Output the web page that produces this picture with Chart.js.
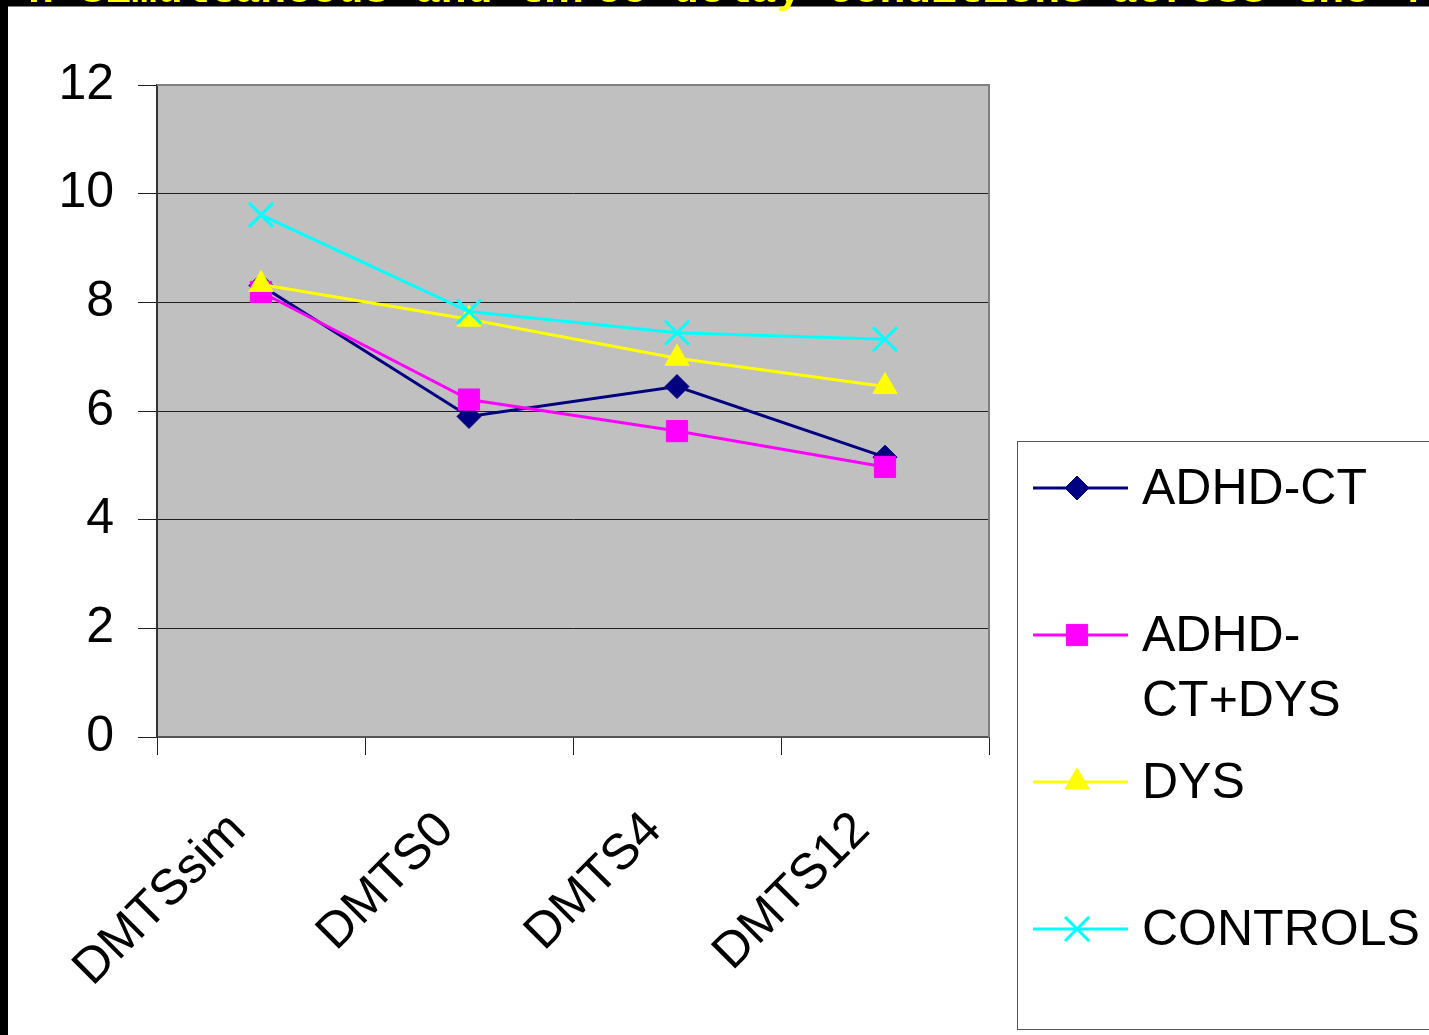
<!DOCTYPE html>
<html>
<head>
<meta charset="utf-8">
<script src="https://cdn.jsdelivr.net/npm/chart.js@4.4.1/dist/chart.umd.min.js"></script>
<style>
  html, body { margin: 0; padding: 0; background: #000; width: 1429px; height: 1035px; overflow: hidden; }
  #sheet { position: absolute; left: 8px; top: 6px; width: 1421px; height: 1029px; background: #fff; border-top: 1px solid #808080; box-sizing: border-box; }
  #heading { position: absolute; left: 28px; top: -31px; margin: 0; white-space: nowrap;
             font: bold 43px "Liberation Mono", "DejaVu Sans Mono", monospace; color: #ffff00; line-height: 43px; z-index: 2; }
  #chart { position: absolute; left: 8px; top: 7px; }
</style>
</head>
<body>
<div id="sheet"></div>
<p id="heading">n simultaneous and three delay conditions across the 4</p>
<canvas id="chart" width="1421" height="1028"></canvas>
<script>
// Delay conditions on the x axis
const conditions = ['DMTSsim', 'DMTS0', 'DMTS4', 'DMTS12'];

// Group names
const groupNames = ['ADHD-CT', 'ADHD-CT+DYS', 'DYS', 'CONTROLS'];

// Mean scores per group, one value per condition
const adhdCt     = [8.31, 5.90, 6.45, 5.15];
const adhdCtDys  = [8.19, 6.21, 5.63, 4.97];
const dys        = [8.33, 7.69, 6.97, 6.45];
const controls   = [9.61, 7.83, 7.44, 7.32];

// Y axis range and ticks
const yMin = 0, yMax = 12, yStep = 2;

const seriesValues = [adhdCt, adhdCtDys, dys, controls];
const seriesColors = ['#000080', '#ff00ff', '#ffff00', '#00ffff'];
const seriesMarkers = ['rectRot', 'rect', 'triangle', 'crossRot'];
const markerRadius = [12, 15, 14, 17];

const datasets = groupNames.map((name, i) => ({
  label: name,
  data: seriesValues[i],
  borderColor: seriesColors[i],
  backgroundColor: seriesColors[i],
  borderWidth: 3,
  tension: 0,
  fill: false,
  pointStyle: seriesMarkers[i],
  pointRadius: markerRadius[i],
  pointHoverRadius: markerRadius[i],
  pointBorderWidth: seriesMarkers[i] === 'crossRot' ? 3 : 1,
  pointBorderColor: seriesColors[i],
  pointBackgroundColor: seriesColors[i],
  order: groupNames.length - i
}));

// Grey plot background with darker frame on top and right
const plotBackground = {
  id: 'plotBackground',
  beforeDraw(chart) {
    const { ctx, chartArea: a } = chart;
    ctx.save();
    ctx.fillStyle = '#c0c0c0';
    ctx.fillRect(a.left, a.top, a.right - a.left, a.bottom - a.top);
    ctx.restore();
  },
  beforeDatasetsDraw(chart) {
    const { ctx, chartArea: a } = chart;
    ctx.save();
    ctx.strokeStyle = '#808080';
    ctx.lineWidth = 2;
    ctx.beginPath();
    ctx.moveTo(a.left, a.top);
    ctx.lineTo(a.right, a.top);
    ctx.lineTo(a.right, a.bottom);
    ctx.stroke();
    ctx.restore();
  }
};

// Boxed legend at the right, one entry per dataset, long names wrapped at the hyphen
const boxedLegend = {
  id: 'boxedLegend',
  afterDraw(chart) {
    const { ctx } = chart;
    const box = { left: 1009.5, top: 434.5, right: 1430, bottom: 1022.5 };
    const lineX0 = 1025, lineX1 = 1120, markX = 1069, textX = 1134;
    const maxTextW = 1421 - textX;
    const firstY = 481, stepY = 147, lineH = 65;
    ctx.save();
    ctx.strokeStyle = '#555';
    ctx.lineWidth = 1;
    ctx.strokeRect(box.left, box.top, box.right - box.left, box.bottom - box.top);
    ctx.font = '50px "Liberation Sans", Arial, sans-serif';
    ctx.textBaseline = 'middle';
    ctx.fillStyle = '#000';
    chart.data.datasets.forEach((ds, i) => {
      const y = firstY + i * stepY;
      ctx.strokeStyle = ds.borderColor;
      ctx.lineWidth = 3;
      ctx.beginPath();
      ctx.moveTo(lineX0, y);
      ctx.lineTo(lineX1, y);
      ctx.stroke();
      const style = { pointStyle: ds.pointStyle, rotation: 0, borderWidth: ds.pointBorderWidth };
      ctx.fillStyle = ds.backgroundColor;
      ctx.strokeStyle = ds.borderColor;
      ctx.lineWidth = ds.pointBorderWidth;
      Chart.helpers.drawPoint(ctx, { ...style, radius: ds.pointRadius }, markX, y);
      // text, wrapped after a hyphen if it does not fit
      ctx.fillStyle = '#000';
      let lines = [ds.label];
      if (ctx.measureText(ds.label).width > maxTextW && ds.label.includes('-')) {
        const k = ds.label.indexOf('-') + 1;
        lines = [ds.label.slice(0, k), ds.label.slice(k)];
      }
      lines.forEach((t, j) => ctx.fillText(t, textX, y + j * lineH + 2));
    });
    ctx.restore();
  }
};

new Chart(document.getElementById('chart'), {
  type: 'line',
  data: { labels: conditions, datasets },
  plugins: [plotBackground, boxedLegend],
  options: {
    responsive: false,
    devicePixelRatio: 1,
    animation: false,
    layout: { padding: { left: 0, right: 440, top: 78, bottom: 0 } },
    plugins: { legend: { display: false }, tooltip: { enabled: false }, title: { display: false } },
    scales: {
      x: {
        type: 'category',
        offset: true,
        grid: { offset: true, drawOnChartArea: false, drawTicks: true, tickLength: 18, color: '#222', lineWidth: 1 },
        border: { display: true, color: '#555', width: 2 },
        ticks: {
          minRotation: 45, maxRotation: 45, autoSkip: false, padding: 46, labelOffset: -23,
          color: '#000', font: { family: '"Liberation Sans", Arial, sans-serif', size: 50 }
        },
        afterFit(scale) { scale.height = 298; }
      },
      y: {
        min: yMin, max: yMax,
        grid: { color: '#1e1e1e', lineWidth: 1, tickLength: 19, drawTicks: true },
        border: { display: true, color: '#333', width: 2 },
        ticks: {
          stepSize: yStep, padding: 24, color: '#000',
          font: { family: '"Liberation Sans", Arial, sans-serif', size: 50 }
        },
        afterFit(scale) { scale.width = 149; }
      }
    }
  }
});
</script>
</body>
</html>
